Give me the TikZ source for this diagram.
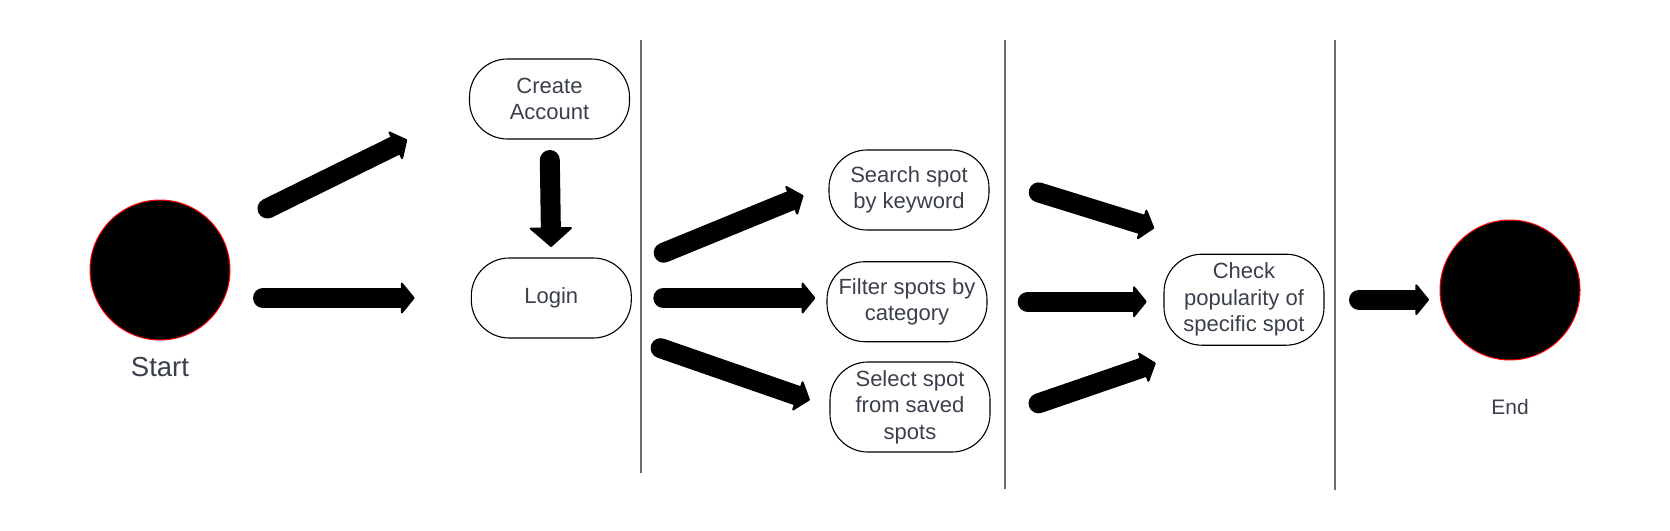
\documentclass[tikz,border=0pt]{standalone}
\usepackage{fontspec}
\setmainfont{Liberation Sans}
\usetikzlibrary{positioning}
\usetikzlibrary{arrows.meta}
\definecolor{txt}{RGB}{58,63,75}
\definecolor{lanegray}{RGB}{110,110,110}
\newcommand{\boxfont}{\fontsize{22}{26.5}\selectfont}

\begin{document}
\begin{tikzpicture}[x=1pt,y=-1pt]

\tikzset{
    terminal/.style={circle,fill=black,draw=red,line width=1pt,minimum size=140pt,inner sep=0pt,outer sep=0pt},
    activity/.style={draw,rounded corners=38pt,line width=1.1pt,minimum width=160pt,minimum height=80pt,align=center,inner sep=0pt,outer sep=0pt,text=txt,font=\boxfont},
    flow/.style={line width=20pt,line cap=round,-{Triangle[width=34pt,length=14pt,line width=2pt,round]}},
    bigflow/.style={line width=20pt,line cap=round,-{Triangle[width=45pt,length=20pt,line width=2pt,round]}},
    lane/.style={draw=lanegray,line width=2pt}
}
% variables
\def\lanetop{40}

\useasboundingbox (0,0) rectangle (1670,530);

% ----------- lanes ----------- %
\draw[lane] (641,\lanetop) -- (641,473);
\draw[lane] (1005,\lanetop) -- (1005,489);
\draw[lane] (1335,\lanetop) -- (1335,490);

% ------------ MAIN DIAGRAM ---------%
% nodes
\node[terminal] (start) at (160,270) {};
\node[text=txt,font=\fontsize{27.5}{33}\selectfont,inner sep=0pt] (startlbl) at (160,367.5) {Start};
\node[activity] (create) at (549.5,99) {Create\\Account};
\node[activity] (login) at (551.3,298) {Login};
\node[activity] (search) at (909,190) {Search spot\\by keyword};
\node[activity] (filter) at (907,301.7) {Filter spots by\\category};
\node[activity,minimum height=90pt] (select) at (910,407) {Select spot\\from saved\\spots};
\node[activity,minimum height=91pt] (check) at (1244,299.7) {Check\\popularity of\\specific spot};
\node[terminal] (end) at (1510,290) {};
\node[text=txt,font=\fontsize{21}{25}\selectfont,inner sep=0pt] (endlbl) at (1510,407) {End};

% edges from start
\draw[flow,shorten <=60pt,shorten >=69.5pt] ([yshift=-10pt]start.40) -- ([yshift=-10pt]create.west);
\draw[flow,shorten <=33pt,shorten >=56.7pt] (start.east |- login.west) -- (login.west);
\draw[bigflow,shorten <=21pt,shorten >=11pt] (create.south) -- (login.north);

% edges from login
\draw[flow,shorten <=35pt,shorten >=27.6pt] ([yshift=-8pt]login.north east) -- ([yshift=5pt]search.west);
\draw[flow,shorten <=32pt,shorten >=11.7pt] (login.east) -- (login.east -| filter.west);
\draw[flow,shorten <=31pt,shorten >=21.3pt] (login.south east) -- (select.west);

% edges to check
\draw[flow,shorten <=52pt,shorten >=10.2pt] ([yshift=13pt]search.east) -- ([yshift=23pt]check.north west);
\draw[flow,shorten <=40.7pt,shorten >=17.3pt] (filter.east) -- (filter.east -| check.west);
\draw[flow,shorten <=51.3pt,shorten >=8.8pt] ([yshift=-13pt]select.east) -- ([yshift=-15pt]check.south west);
\draw[flow,shorten <=35pt,shorten >=11pt] (check.east) -- (check.east -| end.west);
% -------------- END MAIN DIAGRAM -------- %

\end{tikzpicture}
\end{document}
